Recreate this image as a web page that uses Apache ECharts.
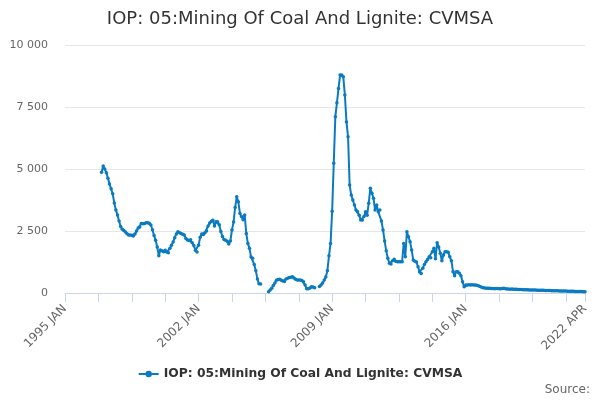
<!DOCTYPE html>
<html>
<head>
<meta charset="utf-8">
<script src="https://cdn.jsdelivr.net/npm/echarts@6/dist/echarts.min.js"></script>
<style>html,body{margin:0;padding:0;background:#fff}#c{width:600px;height:400px}</style>
</head>
<body>
<div id="c"></div>
<script>
var titleText = 'IOP: 05:Mining Of Coal And Lignite: CVMSA';
var seriesName = 'IOP: 05:Mining Of Coal And Lignite: CVMSA';
var monthNames = ['JAN','FEB','MAR','APR','MAY','JUN','JUL','AUG','SEP','OCT','NOV','DEC'];
var startYear = 1995, endYear = 2022, endMonth = 3; // 2022 APR
var categories = [];
for (var y = startYear; y <= endYear; y++) {
  for (var m = 0; m < 12; m++) {
    if (y === endYear && m > endMonth) break;
    categories.push(y + ' ' + monthNames[m]);
  }
}
var leadingNulls = [null,null,null,null,null,null,null,null,null,null,null,null,
  null,null,null,null,null,null,null,null,null,null,null];
var observed = [
  4870, 5120, 5000, 4850, 4630, 4400, 4200,
  4000, 3630, 3350, 3150, 2900, 2680, 2570, 2520, 2460, 2390,
  2340, 2340, 2330, 2300, 2380, 2500, 2620, 2660, 2800, 2790,
  2800, 2830, 2830, 2810, 2740, 2550, 2320, 2130, 1850, 1500,
  1730, 1700, 1660, 1720, 1650, 1620, 1800, 1930, 2060, 2230,
  2380, 2470, 2430, 2400, 2370, 2340, 2200, 2140, 2120, 2150,
  2030, 1920, 1720, 1650, 1930, 2250, 2380, 2360, 2430, 2500,
  2700, 2820, 2890, 2930, 2700, 2870, 2870, 2750, 2480, 2280,
  2160, 2130, 2090, 1980, 2100, 2540, 2860, 3450, 3880, 3680,
  3210, 3080, 2950, 3150, 2400, 2000, 1800, 1450, 1400, 1150,
  900, 560, 370, 360, null, null, null, null, 50, 120,
  190, 300, 400, 510, 540, 550, 510, 480, 460, 560,
  590, 620, 640, 660, 600, 550, 520, 520, 520, 500,
  450, 320, 170, 170, 200, 250, 240, 210, null, null,
  260, 320, 400, 520, 650, 900, 1500, 2000, 3300, 5230,
  7110, 7670, 8250, 8790, 8790, 8720, 7980, 6900, 6300, 4350,
  3950, 3750, 3550, 3350, 3280, 3140, 2940, 2940, 3080, 3280,
  3140, 3620, 4220, 4020, 3820, 3350, 3550, 3280, 3350, 2900,
  2540, 2100, 1700, 1400, 1200, 1170, 1300, 1360, 1280, 1260,
  1260, 1260, 1260, 2000, 1460, 2470, 2270, 2070, 1730, 1330,
  1280, 1250, 1060, 850, 790, 1000, 1150, 1260, 1350, 1460,
  1420, 1660, 1800, 1380, 2030, 1850, 1600, 1300, 1530, 1660,
  1660, 1640, 1460, 1300, 860, 700, 860, 860, 800, 700,
  450, 250, 320, 320, 330, 320, 330, 320, 320, 310,
  290, 260, 230, 210, 200, 190, 190, 190, 180, 180,
  170, 180, 180, 170, 170, 180, 190, 170, 160, 160,
  150, 160, 150, 150, 150, 145, 140, 140, 135, 135,
  130, 130, 125, 125, 120, 120, 120, 115, 115, 110,
  110, 110, 105, 100, 100, 100, 95, 95, 90, 90,
  90, 85, 85, 80, 80, 80, 75, 75, 70, 70,
  70, 65, 65, 60, 60, 60, 55, 55
];
var values = leadingNulls.concat(observed);
var yTicks = [0, 2500, 5000, 7500, 10000];

var chart = echarts.init(document.getElementById('c'));
var lastIdx = categories.length - 1;
chart.setOption({
  animation: false,
  title: {
    text: titleText, left: 'center', top: 5,
    textStyle: { fontFamily: 'DejaVu Sans', fontSize: 18, fontWeight: 'normal', color: '#333' }
  },
  legend: {
    bottom: 15, left: 'center', itemWidth: 20, itemHeight: 8,
    textStyle: { fontFamily: 'DejaVu Sans', fontSize: 12.3, fontWeight: 'bold', color: '#333' },
    data: [seriesName]
  },
  graphic: [{
    type: 'text', right: 10, bottom: 4,
    style: { text: 'Source:', font: '12px DejaVu Sans', fill: '#666' }
  }],
  grid: { left: 65, right: 15, top: 45, bottom: 107 },
  xAxis: {
    type: 'category', data: categories, boundaryGap: false,
    axisLine: { lineStyle: { color: '#ccd6eb' } },
    axisTick: { lineStyle: { color: '#ccd6eb' }, length: 9,
      interval: function (i) { return i % 21 === 0 || i === lastIdx; } },
    axisLabel: {
      rotate: 45, color: '#666', fontFamily: 'DejaVu Sans', fontSize: 12, margin: 14,
      interval: function (i) { return i % 84 === 0 || i === lastIdx; }
    },
    splitLine: { show: false }
  },
  yAxis: {
    type: 'value', min: yTicks[0], max: yTicks[yTicks.length - 1], interval: 2500,
    axisLine: { show: false }, axisTick: { show: false },
    axisLabel: {
      color: '#666', fontFamily: 'DejaVu Sans', fontSize: 11, margin: 17,
      formatter: function (v) { return String(v).replace(/\B(?=(\d{3})+(?!\d))/g, ' '); }
    },
    splitLine: { lineStyle: { color: '#e6e6e6' } }
  },
  series: [{
    name: seriesName, type: 'line', data: values,
    symbol: 'circle', symbolSize: 3.5, showAllSymbol: true,
    lineStyle: { width: 2, color: '#0a7bc1' },
    itemStyle: { color: '#0a7bc1' }
  }]
});
</script>
</body>
</html>
